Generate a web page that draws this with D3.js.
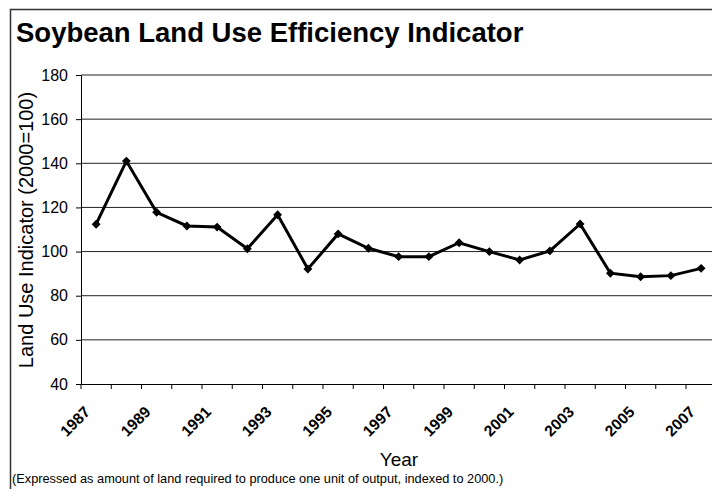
<!DOCTYPE html>
<html>
<head>
<meta charset="utf-8">
<script src="https://cdn.jsdelivr.net/npm/d3@7"></script>
<style>
  body { margin: 0; background: #fff; }
  svg { display: block; font-family: "Liberation Sans", Arial, sans-serif; }
</style>
</head>
<body>
<svg id="chart" width="712" height="489"></svg>
<script>
// 数据
var years = ["1987", "1988", "1989", "1990", "1991", "1992", "1993", "1994", "1995", "1996", "1997",
             "1998", "1999", "2000", "2001", "2002", "2003", "2004", "2005", "2006", "2007"]
var indicator = [112.4, 141, 117.8, 111.6, 111.1, 101.3, 116.7, 92.1, 108, 101.5, 97.7,
                 97.7, 104, 100, 96.2, 100.3, 112.5, 90.2, 88.6, 89.1, 92.4]
var yTicks = [40, 60, 80, 100, 120, 140, 160, 180]

var svg = d3.select("#chart")

// 外框
svg.append("rect")
   .attr("x", 10.5).attr("y", 9.5)
   .attr("width", 720).attr("height", 490)
   .attr("fill", "none")
   .attr("stroke", "#333")
   .attr("stroke-width", 1.5)

// 标题
svg.append("text")
   .attr("x", 16).attr("y", 42)
   .attr("font-size", 27.5)
   .attr("font-weight", "bold")
   .text("Soybean Land Use Efficiency Indicator")

var plotLeft = 81, plotTop = 75, plotBottom = 384
var plotRight = plotLeft + 21 * 30.25

var x = d3.scaleBand().domain(years).range([plotLeft, plotRight])
var y = d3.scaleLinear().domain([40, 180]).range([plotBottom, plotTop])

// 网格线
svg.append("g")
   .selectAll("line")
   .data(yTicks.filter(function (d) { return d > 40 }))
   .join("line")
   .attr("x1", plotLeft).attr("x2", plotRight)
   .attr("y1", function (d) { return y(d) }).attr("y2", function (d) { return y(d) })
   .attr("stroke", "#222")
   .attr("stroke-width", 1)

// y 轴
var yAxis = svg.append("g")
   .attr("transform", "translate(" + plotLeft + ",0)")
   .call(d3.axisLeft(y).tickValues(yTicks).tickSize(5).tickPadding(8))
yAxis.attr("font-family", null).attr("font-size", null)
yAxis.selectAll("text").attr("font-size", 16).attr("fill", "#000")
yAxis.selectAll("line, path").attr("stroke", "#000")

// x 轴
var xAxis = svg.append("g")
   .attr("transform", "translate(0," + plotBottom + ")")
   .call(d3.axisBottom(x).tickSize(0).tickFormat(""))
xAxis.select("path").attr("stroke", "#000")

// 刻度线：类别之间
svg.append("g")
   .selectAll("line")
   .data(d3.range(0, 22))
   .join("line")
   .attr("x1", function (i) { return plotLeft + i * x.step() })
   .attr("x2", function (i) { return plotLeft + i * x.step() })
   .attr("y1", plotBottom).attr("y2", plotBottom + 5)
   .attr("stroke", "#000")

// 年份标签，隔年显示
svg.append("g")
   .selectAll("text")
   .data(years.filter(function (d, i) { return i % 2 == 0 }))
   .join("text")
   .attr("transform", function (d) {
      return "translate(" + (x(d) + x.bandwidth() / 2 - 5) + "," + (plotBottom + 29) + ") rotate(-45)"
   })
   .attr("text-anchor", "end")
   .attr("font-size", 15.5)
   .attr("font-weight", "bold")
   .text(function (d) { return d })

// 折线
var line = d3.line()
   .x(function (d, i) { return x(years[i]) + x.bandwidth() / 2 })
   .y(function (d) { return y(d) })

svg.append("path")
   .datum(indicator)
   .attr("d", line)
   .attr("fill", "none")
   .attr("stroke", "#000")
   .attr("stroke-width", 3)
   .attr("stroke-linejoin", "miter")

svg.append("g")
   .selectAll("path")
   .data(indicator)
   .join("path")
   .attr("d", d3.symbol().type(d3.symbolDiamond2).size(50))
   .attr("transform", function (d, i) {
      return "translate(" + (x(years[i]) + x.bandwidth() / 2) + "," + y(d) + ")"
   })
   .attr("fill", "#000")

// 轴标题
svg.append("text")
   .attr("transform", "translate(33,230) rotate(-90)")
   .attr("text-anchor", "middle")
   .attr("font-size", 20)
   .text("Land Use Indicator (2000=100)")

svg.append("text")
   .attr("x", 399).attr("y", 466)
   .attr("text-anchor", "middle")
   .attr("font-size", 19)
   .text("Year")

// 注释
svg.append("text")
   .attr("x", 12).attr("y", 483)
   .attr("font-size", 12.75)
   .text("(Expressed as amount of land required to produce one unit of output, indexed to 2000.)")
</script>
</body>
</html>
